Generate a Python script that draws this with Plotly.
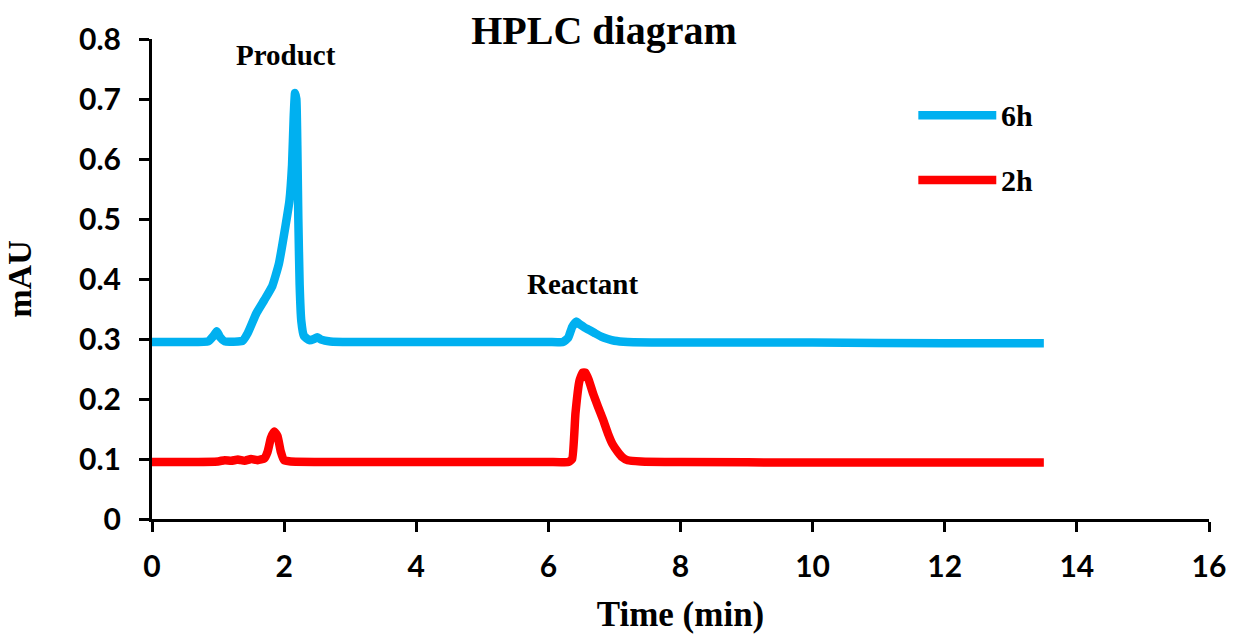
import plotly.graph_objects as go

# ---- data ----
time_6h = [0, 0.5, 0.85, 0.93, 0.98, 1.03, 1.1, 1.3, 1.37, 1.45, 1.58, 1.7, 1.82, 1.92,
           2.02, 2.08, 2.12, 2.145, 2.165, 2.185, 2.2, 2.215, 2.235, 2.26, 2.3, 2.38, 2.45, 2.5,
           2.56, 2.7, 3.0, 4.0, 5.0, 6.0, 6.22, 6.3, 6.36, 6.42, 6.48, 6.55, 6.62, 6.7,
           6.8, 6.9, 7.0, 7.2, 8.0, 10.0, 12.0, 13.5]
mau_6h = [0.295, 0.295, 0.296, 0.305, 0.313, 0.303, 0.296, 0.296, 0.297, 0.31, 0.343,
          0.365, 0.388, 0.425, 0.488, 0.53, 0.59, 0.67, 0.71, 0.70, 0.62, 0.50, 0.39, 0.33,
          0.305, 0.298, 0.3, 0.303, 0.299, 0.296, 0.295, 0.295, 0.295, 0.295, 0.295,
          0.302, 0.32, 0.329, 0.324, 0.319, 0.315, 0.31, 0.304, 0.3, 0.297, 0.295,
          0.294, 0.294, 0.293, 0.293]

time_2h = [0, 0.5, 1.0, 1.1, 1.2, 1.3, 1.4, 1.5, 1.6, 1.7, 1.75, 1.8, 1.85, 1.9, 1.95,
           2.0, 2.1, 3.0, 4.0, 5.0, 6.0, 6.3, 6.36, 6.41, 6.47, 6.52, 6.56, 6.61, 6.68,
           6.75, 6.83, 6.9, 6.97, 7.05, 7.12, 7.2, 7.4, 8.0, 10.0, 12.0, 13.5]
mau_2h = [0.095, 0.095, 0.096, 0.098, 0.097, 0.099, 0.097, 0.1, 0.098, 0.101, 0.112,
          0.135, 0.146, 0.138, 0.112, 0.098, 0.096, 0.095, 0.095, 0.095, 0.095, 0.095,
          0.1, 0.176, 0.23, 0.244, 0.244, 0.232, 0.208, 0.1875, 0.165, 0.143, 0.125,
          0.112, 0.103, 0.098, 0.096, 0.095, 0.094, 0.094, 0.094]

series_names = ["6h", "2h"]
series_colors = ["#00B0F0", "#FF0000"]
peak_labels = ["Product", "Reactant"]
peak_label_x = [2.03, 6.52]
peak_label_y = [0.773, 0.392]

x_ticks = [0, 2, 4, 6, 8, 10, 12, 14, 16]
y_ticks = [0, 0.1, 0.2, 0.3, 0.4, 0.5, 0.6, 0.7, 0.8]
y_tick_text = ["0", "0.1", "0.2", "0.3", "0.4", "0.5", "0.6", "0.7", "0.8"]

SERIF = "Liberation Serif"
SANS = "Lato"

fig = go.Figure()
for name, xs, ys, col in zip(series_names, [time_6h, time_2h], [mau_6h, mau_2h], series_colors):
    fig.add_trace(go.Scatter(x=xs, y=ys, mode="lines", name=name,
                             line=dict(color=col, width=8.5, shape="spline", smoothing=0.4),
                             showlegend=False))

# peak labels
for txt, lx, ly in zip(peak_labels, peak_label_x, peak_label_y):
    fig.add_annotation(x=lx, y=ly, xref="x", yref="y", text="<b>%s</b>" % txt,
                       showarrow=False, font=dict(family=SERIF, size=29, color="black"),
                       xanchor="center", yanchor="middle")

# manual legend (long line samples as in reference)
legend_y = [0.673, 0.565]
for name, col, ly in zip(series_names, series_colors, legend_y):
    fig.add_shape(type="line", xref="x", yref="y", x0=11.6, x1=12.78, y0=ly, y1=ly,
                  line=dict(color=col, width=8.5))
    fig.add_annotation(x=12.82, y=ly, xref="x", yref="y", text="<b>%s</b>" % name,
                       showarrow=False, font=dict(family=SERIF, size=30, color="black"),
                       xanchor="left", yanchor="middle")

fig.update_layout(
    width=1236, height=639,
    margin=dict(l=152, r=27, t=39, b=120, autoexpand=False),
    paper_bgcolor="white", plot_bgcolor="white",
    title=dict(text="<b>HPLC diagram</b>", x=604 / 1236, xanchor="center",
               xref="container", y=1 - 30 / 639, yanchor="middle", yref="container",
               font=dict(family=SERIF, size=40, color="black")),
    xaxis=dict(range=[0, 16], tickvals=x_ticks, ticktext=[str(v) for v in x_ticks],
               showline=True, linecolor="black", linewidth=3, mirror=False,
               ticks="outside", ticklen=10, tickwidth=3, tickcolor="black",
               showgrid=False, zeroline=False, ticklabelstandoff=9, automargin=False,
               tickfont=dict(family=SANS, size=30, color="black", weight="bold"),
               title=dict(text="<b>Time (min)</b>", standoff=20,
                          font=dict(family=SERIF, size=35, color="black"))),
    yaxis=dict(range=[0, 0.8], tickvals=y_ticks, ticktext=y_tick_text,
               showline=True, linecolor="black", linewidth=3,
               ticks="outside", ticklen=10, tickwidth=3, tickcolor="black",
               showgrid=False, zeroline=False, ticklabelstandoff=12, automargin=False,
               tickfont=dict(family=SANS, size=30, color="black", weight="bold"),
               title=dict(text="<b>mAU</b>", standoff=38,
                          font=dict(family=SERIF, size=34, color="black"))),
)

fig.write_html("out.html", config={"displayModeBar": False},
               post_script="document.body.style.margin='0';document.body.style.padding='0';")
